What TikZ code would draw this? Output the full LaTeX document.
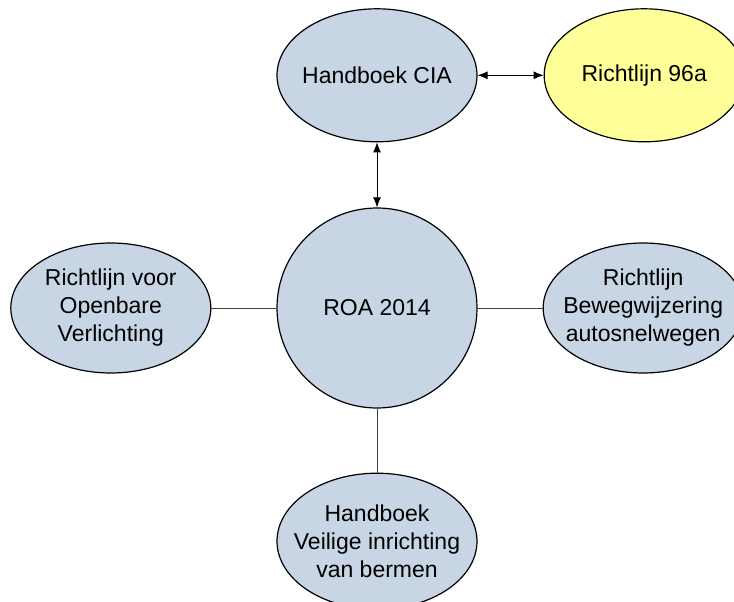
\documentclass[tikz,border=0pt]{standalone}
\usepackage{fontspec}
\setmainfont{Liberation Sans}
\usepackage{tikz}
\usetikzlibrary{positioning}
\usetikzlibrary{shapes.geometric}
\usetikzlibrary{arrows.meta}

\definecolor{docblue}{HTML}{C8D5E4}
\definecolor{docyellow}{HTML}{FFFF99}

\begin{document}
\begin{tikzpicture}[
  node distance=65pt and 65pt,
  docnode/.style={draw,ellipse,line width=1.2pt,fill=docblue,inner sep=-30pt,
    minimum width=200pt,minimum height=133pt,align=center,
    font=\fontsize{23}{28}\selectfont},
  link/.style={line width=0.8pt,draw=black!75},
  both/.style={{Latex[length=10pt,width=8pt]}-{Latex[length=10pt,width=8pt]},line width=0.8pt}
]

  \useasboundingbox (-377pt,308pt) rectangle (357pt,-294pt);

  \node[docnode, circle, minimum size=200pt] (roa) {ROA 2014};
  \node[docnode, above=of roa] (cia) {Handboek CIA};
  \node[docnode, right=66pt of cia, fill=docyellow] (r96a) {Richtlijn 96a};
  \node[docnode, left=of roa, minimum height=130pt] (ovl) {Richtlijn voor\\Openbare\\Verlichting};
  \node[docnode, right=of roa, minimum height=130pt] (baw) {Richtlijn\\Bewegwijzering\\autosnelwegen};
  \node[docnode, below=64pt of roa, minimum height=136pt] (berm) {Handboek\\Veilige inrichting\\van bermen};

  \path (cia) edge[both] (r96a)
        (cia) edge[both] (roa)
        (ovl) edge[link] (roa)
        (roa) edge[link] (baw)
        (roa) edge[link] (berm)
  ;
\end{tikzpicture}
\end{document}
